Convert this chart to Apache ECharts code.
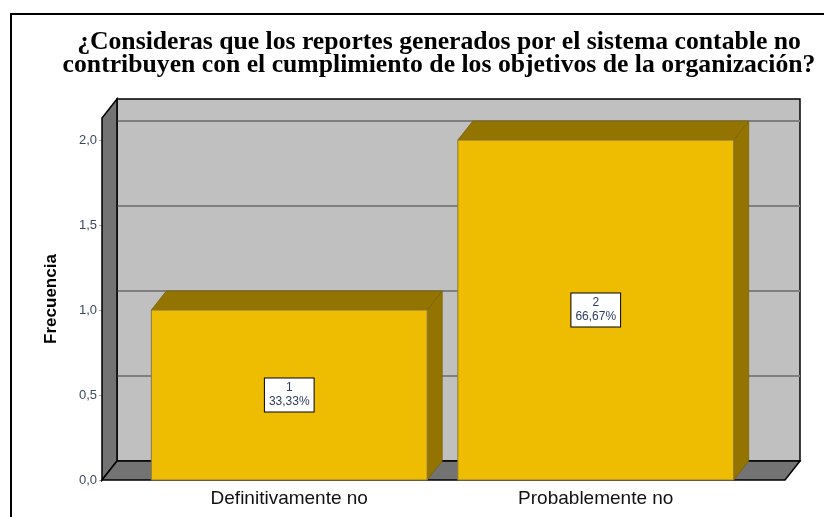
<!DOCTYPE html>
<html>
<head>
<meta charset="utf-8">
<script src="https://cdn.jsdelivr.net/npm/echarts@6/dist/echarts.min.js"></script>
<style>
    html, body { margin: 0; padding: 0; background: #fff; }
    #chart { width: 824px; height: 517px; }
</style>
</head>
<body>
<div id="chart"></div>
<script>
// datos del gráfico
const categories = ["Definitivamente no", "Probablemente no"];
const counts = [1, 2];
const percents = [33.33, 66.67];
const yTickValues = [0, 0.5, 1, 1.5, 2];
const yMax = 2.13;

// desplazamiento de la profundidad 3D (px)
const DEPTH = [15, -19];

const fmtNum = (v, d) => v.toFixed(d).replace(".", ",");

// paredes, piso y líneas de cuadrícula
const renderFrame = (params, api) => {
    const bl = api.coord([0, 0]);
    const tr = api.coord([1, yMax]);
    const [x0, y0] = bl;
    const [x1, yt] = tr;
    const [dx, dy] = DEPTH;
    const children = [
        {
            type: "rect",
            shape: { x: x0 + dx, y: yt + dy, width: x1 - x0, height: y0 - yt },
            style: { fill: "#c0c0c0", stroke: "#000", lineWidth: 1.5 }
        }
    ];
    yTickValues.filter(v => v > 0).forEach(v => {
        const y = api.coord([0, v])[1] + dy;
        children.push({
            type: "line",
            shape: { x1: x0 + dx, y1: y, x2: x1 + dx, y2: y },
            style: { stroke: "#7f7f7f", lineWidth: 2 }
        });
    });
    children.push({
        type: "polygon",
        shape: { points: [[x0, y0], [x0, yt], [x0 + dx, yt + dy], [x0 + dx, y0 + dy]] },
        style: { fill: "#737373", stroke: "#000", lineWidth: 1.5 }
    });
    children.push({
        type: "polygon",
        shape: { points: [[x0, y0], [x0 + dx, y0 + dy], [x1 + dx, y0 + dy], [x1, y0]] },
        style: { fill: "#737373", stroke: "#000", lineWidth: 1.5 }
    });
    return { type: "group", children };
};

// barras 3D con etiqueta
const renderBar = (params, api) => {
    const i = api.value(0);
    const v = api.value(1);
    const [xc, yv] = api.coord([i, v]);
    const y0 = api.coord([i, 0])[1];
    const yMid = api.coord([i, v / 2])[1];
    const w = api.size([1, 0])[0] * 0.9;
    const xl = xc - w / 2;
    const xr = xc + w / 2;
    const [dx, dy] = DEPTH;
    return {
        type: "group",
        children: [
            {
                type: "polygon",
                shape: { points: [[xl, yv], [xl + dx, yv + dy], [xr + dx, yv + dy], [xr, yv]] },
                style: { fill: "#947400", stroke: "#7a6200", lineWidth: 0.8 }
            },
            {
                type: "polygon",
                shape: { points: [[xr, yv], [xr + dx, yv + dy], [xr + dx, y0 + dy], [xr, y0]] },
                style: { fill: "#947400", stroke: "#7a6200", lineWidth: 0.8 }
            },
            {
                type: "rect",
                shape: { x: xl, y: yv, width: w, height: y0 - yv },
                style: { fill: "#eebc00", stroke: "#8c7a3c", lineWidth: 1 }
            },
            {
                type: "text",
                x: xc,
                y: yMid,
                style: {
                    text: counts[i] + "\n" + fmtNum(percents[i], 2) + "%",
                    align: "center",
                    verticalAlign: "middle",
                    fill: "#2e3b63",
                    font: "12px 'Liberation Sans', Arial, sans-serif",
                    lineHeight: 14,
                    backgroundColor: "#fff",
                    borderColor: "#000",
                    borderWidth: 1,
                    padding: [3, 4, 2, 4]
                }
            }
        ]
    };
};

const chart = echarts.init(document.getElementById("chart"), null, { renderer: "canvas" });

chart.setOption({
    animation: false,
    backgroundColor: "#fff",
    title: {
        text: "¿Consideras que los reportes generados por el sistema contable no\ncontribuyen con el cumplimiento de los objetivos de la organización?",
        left: 434,
        top: 26,
        textAlign: "center",
        textStyle: {
            fontFamily: "'Liberation Serif', 'Times New Roman', serif",
            fontWeight: "bold",
            fontSize: 25.7,
            lineHeight: 23,
            color: "#000"
        }
    },
    graphic: [
        {
            type: "rect",
            shape: { x: 11, y: 14, width: 900, height: 600 },
            style: { fill: "none", stroke: "#000", lineWidth: 2 },
            silent: true
        }
    ],
    grid: [
        { left: 102, right: 39, top: 118, bottom: 37, containLabel: false, outerBoundsMode: "none" },
        { left: 136, right: 75, top: 118, bottom: 37, containLabel: false, outerBoundsMode: "none" }
    ],
    xAxis: [
        { gridIndex: 0, type: "value", min: 0, max: 1, show: false },
        {
            gridIndex: 1,
            type: "category",
            data: categories,
            axisLine: { show: false },
            axisTick: { show: false },
            axisLabel: {
                margin: 9,
                color: "#111",
                fontSize: 19,
                fontFamily: "'Liberation Sans', Arial, sans-serif"
            }
        }
    ],
    yAxis: [
        {
            gridIndex: 0,
            type: "value",
            min: 0,
            max: yMax,
            name: "Frecuencia",
            nameLocation: "middle",
            nameGap: 42,
            nameTextStyle: {
                fontFamily: "'Liberation Sans', Arial, sans-serif",
                fontWeight: "bold",
                fontSize: 17,
                color: "#000"
            },
            axisLine: { show: false },
            axisTick: { show: true, length: 3, lineStyle: { color: "#aaa" }, customValues: yTickValues },
            splitLine: { show: false },
            axisLabel: {
                customValues: yTickValues,
                margin: 5,
                color: "#3d4866",
                fontSize: 13,
                fontFamily: "'Liberation Sans', Arial, sans-serif",
                formatter: v => fmtNum(v, 1)
            }
        },
        { gridIndex: 1, type: "value", min: 0, max: yMax, show: false }
    ],
    series: [
        {
            type: "custom",
            xAxisIndex: 0,
            yAxisIndex: 0,
            renderItem: renderFrame,
            data: [[0, 0]],
            silent: true,
            z: 1
        },
        {
            type: "custom",
            xAxisIndex: 1,
            yAxisIndex: 1,
            renderItem: renderBar,
            data: counts.map((c, i) => [i, c]),
            z: 3
        }
    ]
});
</script>
</body>
</html>
